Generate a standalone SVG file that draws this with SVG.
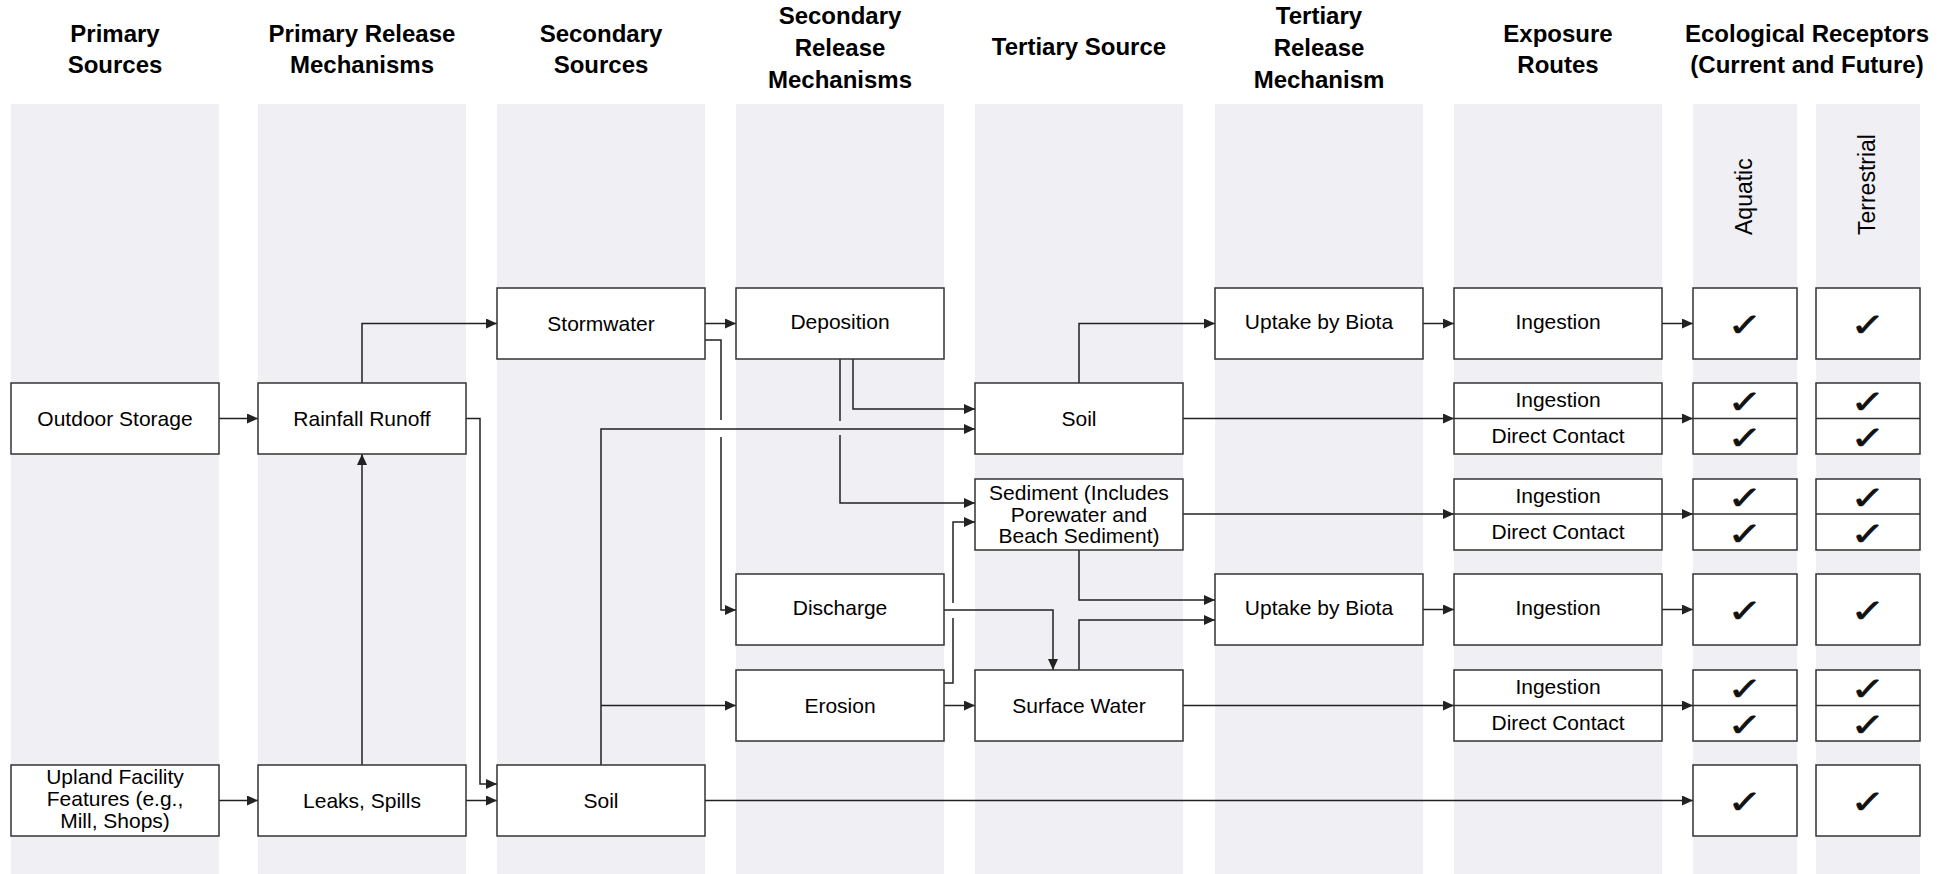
<svg xmlns="http://www.w3.org/2000/svg" width="1938" height="874" viewBox="0 0 1938 874">
  <defs>
    <marker id="arrow" markerUnits="userSpaceOnUse" markerWidth="11" markerHeight="10" refX="11" refY="5" orient="auto">
      <path d="M0,0 L11,5 L0,10 Z" fill="#222"/>
    </marker>
    <!-- shared tick mark, widened a little -->
    <text id="tick" class="chk" x="0" y="0" transform="scale(1.3,1)">✓</text>
  </defs>
  <style>
    .lane { fill: #efeff4; }
    .hdr { font-family: "Liberation Sans", Arial, sans-serif; font-size: 24px; font-weight: bold; fill: #000; text-anchor: middle; }
    .box { fill: #fff; stroke: #333; stroke-width: 1.5; }
    .div { stroke: #333; stroke-width: 1.5; fill: none; }
    .lbl { font-family: "Liberation Sans", Arial, sans-serif; font-size: 21px; fill: #000; text-anchor: middle; }
    .vlbl { font-family: "Liberation Sans", Arial, sans-serif; font-size: 23px; fill: #000; }
    .chk { font-family: "DejaVu Sans", sans-serif; font-size: 32px; fill: #111; stroke: #111; stroke-width: 0.7; text-anchor: middle; }
    .conn path { fill: none; stroke: #222; stroke-width: 1.5; }
    .conn path.a { marker-end: url(#arrow); }
  </style>

  <rect width="1938" height="874" fill="#fff"/>

  <!-- column lanes -->
  <g id="lanes">
    <rect class="lane" x="11" y="104" width="208" height="770"/>
    <rect class="lane" x="258" y="104" width="208" height="770"/>
    <rect class="lane" x="497" y="104" width="208" height="770"/>
    <rect class="lane" x="736" y="104" width="208" height="770"/>
    <rect class="lane" x="975" y="104" width="208" height="770"/>
    <rect class="lane" x="1215" y="104" width="208" height="770"/>
    <rect class="lane" x="1454" y="104" width="208" height="770"/>
    <rect class="lane" x="1693" y="104" width="104" height="770"/>
    <rect class="lane" x="1816" y="104" width="104" height="770"/>
  </g>

  <!-- column headings -->
  <g id="headers">
    <text class="hdr" x="115" y="41.5">Primary</text>
    <text class="hdr" x="115" y="73">Sources</text>
    <text class="hdr" x="362" y="41.5">Primary Release</text>
    <text class="hdr" x="362" y="73">Mechanisms</text>
    <text class="hdr" x="601" y="41.5">Secondary</text>
    <text class="hdr" x="601" y="73">Sources</text>
    <text class="hdr" x="840" y="24">Secondary</text>
    <text class="hdr" x="840" y="56">Release</text>
    <text class="hdr" x="840" y="88">Mechanisms</text>
    <text class="hdr" x="1079" y="55">Tertiary Source</text>
    <text class="hdr" x="1319" y="24">Tertiary</text>
    <text class="hdr" x="1319" y="56">Release</text>
    <text class="hdr" x="1319" y="88">Mechanism</text>
    <text class="hdr" x="1558" y="41.5">Exposure</text>
    <text class="hdr" x="1558" y="73">Routes</text>
    <text class="hdr" x="1807" y="41.5">Ecological Receptors</text>
    <text class="hdr" x="1807" y="73">(Current and Future)</text>
    <text class="vlbl" transform="translate(1752,235) rotate(-90)">Aquatic</text>
    <text class="vlbl" transform="translate(1875,235) rotate(-90)">Terrestrial</text>
  </g>

  <!-- connectors -->
  <g id="connectors" class="conn">
    <path class="a" d="M219,418.5 H258"/>
    <path class="a" d="M219,800.5 H258"/>
    <path class="a" d="M362,765 V454"/>
    <path class="a" d="M362,383 V323.5 H497"/>
    <path class="a" d="M466,418.5 H480 V784 H497"/>
    <path class="a" d="M466,800.5 H497"/>
    <path class="a" d="M705,323.5 H736"/>
    <path d="M705,340 H721 V420"/>
    <path class="a" d="M721,437 V610 H736"/>
    <path class="a" d="M601,765 V429 H975"/>
    <path class="a" d="M601,705.5 H736"/>
    <path class="a" d="M853,359 V409 H975"/>
    <path d="M840,359 V421"/>
    <path class="a" d="M840,435 V503 H975"/>
    <path d="M944,683 H953 V618"/>
    <path class="a" d="M953,603 V522 H975"/>
    <path class="a" d="M944,610 H1053 V670"/>
    <path class="a" d="M944,705.5 H975"/>
    <path class="a" d="M1079,549 V600 H1215"/>
    <path class="a" d="M1079,670 V620 H1215"/>
    <path class="a" d="M1079,383 V323.5 H1215"/>
    <path class="a" d="M1423,323.5 H1454"/>
    <path class="a" d="M1662,323.5 H1693"/>
    <path class="a" d="M1183,418.5 H1454"/>
    <path class="a" d="M1662,418.5 H1693"/>
    <path class="a" d="M1183,514 H1454"/>
    <path class="a" d="M1662,514 H1693"/>
    <path class="a" d="M1423,609.5 H1454"/>
    <path class="a" d="M1662,609.5 H1693"/>
    <path class="a" d="M1183,705.5 H1454"/>
    <path class="a" d="M1662,705.5 H1693"/>
    <path class="a" d="M705,800.5 H1693"/>
  </g>

  <!-- primary sources -->
  <g id="outdoor-storage">
    <rect class="box" x="11" y="383" width="208" height="71"/>
    <text class="lbl" x="115" y="426">Outdoor Storage</text>
  </g>
  <g id="upland-facility">
    <rect class="box" x="11" y="765" width="208" height="71"/>
    <text class="lbl" x="115" y="784">Upland Facility</text>
    <text class="lbl" x="115" y="806">Features (e.g.,</text>
    <text class="lbl" x="115" y="828">Mill, Shops)</text>
  </g>

  <!-- primary release mechanisms -->
  <g id="rainfall-runoff">
    <rect class="box" x="258" y="383" width="208" height="71"/>
    <text class="lbl" x="362" y="426">Rainfall Runoff</text>
  </g>
  <g id="leaks-spills">
    <rect class="box" x="258" y="765" width="208" height="71"/>
    <text class="lbl" x="362" y="808">Leaks, Spills</text>
  </g>

  <!-- secondary sources -->
  <g id="stormwater">
    <rect class="box" x="497" y="288" width="208" height="71"/>
    <text class="lbl" x="601" y="331">Stormwater</text>
  </g>
  <g id="soil-secondary">
    <rect class="box" x="497" y="765" width="208" height="71"/>
    <text class="lbl" x="601" y="808">Soil</text>
  </g>

  <!-- secondary release mechanisms -->
  <g id="deposition">
    <rect class="box" x="736" y="288" width="208" height="71"/>
    <text class="lbl" x="840" y="329">Deposition</text>
  </g>
  <g id="discharge">
    <rect class="box" x="736" y="574" width="208" height="71"/>
    <text class="lbl" x="840" y="615">Discharge</text>
  </g>
  <g id="erosion">
    <rect class="box" x="736" y="670" width="208" height="71"/>
    <text class="lbl" x="840" y="713">Erosion</text>
  </g>

  <!-- tertiary sources -->
  <g id="soil-tertiary">
    <rect class="box" x="975" y="383" width="208" height="71"/>
    <text class="lbl" x="1079" y="426">Soil</text>
  </g>
  <g id="sediment">
    <rect class="box" x="975" y="479" width="208" height="71"/>
    <text class="lbl" x="1079" y="500">Sediment (Includes</text>
    <text class="lbl" x="1079" y="522">Porewater and</text>
    <text class="lbl" x="1079" y="543">Beach Sediment)</text>
  </g>
  <g id="surface-water">
    <rect class="box" x="975" y="670" width="208" height="71"/>
    <text class="lbl" x="1079" y="713">Surface Water</text>
  </g>

  <!-- tertiary release mechanisms -->
  <g id="uptake-biota-1">
    <rect class="box" x="1215" y="288" width="208" height="71"/>
    <text class="lbl" x="1319" y="329">Uptake by Biota</text>
  </g>
  <g id="uptake-biota-2">
    <rect class="box" x="1215" y="574" width="208" height="71"/>
    <text class="lbl" x="1319" y="615">Uptake by Biota</text>
  </g>

  <!-- exposure routes -->
  <g id="route-1">
    <rect class="box" x="1454" y="288" width="208" height="71"/>
    <text class="lbl" x="1558" y="329">Ingestion</text>
  </g>
  <g id="route-2">
    <rect class="box" x="1454" y="383" width="208" height="71"/>
    <line class="div" x1="1454" y1="418.5" x2="1662" y2="418.5"/>
    <text class="lbl" x="1558" y="407">Ingestion</text>
    <text class="lbl" x="1558" y="443">Direct Contact</text>
  </g>
  <g id="route-3">
    <rect class="box" x="1454" y="479" width="208" height="71"/>
    <line class="div" x1="1454" y1="514" x2="1662" y2="514"/>
    <text class="lbl" x="1558" y="503">Ingestion</text>
    <text class="lbl" x="1558" y="539">Direct Contact</text>
  </g>
  <g id="route-4">
    <rect class="box" x="1454" y="574" width="208" height="71"/>
    <text class="lbl" x="1558" y="615">Ingestion</text>
  </g>
  <g id="route-5">
    <rect class="box" x="1454" y="670" width="208" height="71"/>
    <line class="div" x1="1454" y1="705.5" x2="1662" y2="705.5"/>
    <text class="lbl" x="1558" y="694">Ingestion</text>
    <text class="lbl" x="1558" y="730">Direct Contact</text>
  </g>

  <!-- aquatic receptors -->
  <g id="aquatic-1">
    <rect class="box" x="1693" y="288" width="104" height="71"/>
    <use href="#tick" x="1745" y="336"/>
  </g>
  <g id="aquatic-2">
    <rect class="box" x="1693" y="383" width="104" height="71"/>
    <line class="div" x1="1693" y1="418.5" x2="1797" y2="418.5"/>
    <use href="#tick" x="1745" y="413"/>
    <use href="#tick" x="1745" y="449"/>
  </g>
  <g id="aquatic-3">
    <rect class="box" x="1693" y="479" width="104" height="71"/>
    <line class="div" x1="1693" y1="514" x2="1797" y2="514"/>
    <use href="#tick" x="1745" y="509"/>
    <use href="#tick" x="1745" y="545"/>
  </g>
  <g id="aquatic-4">
    <rect class="box" x="1693" y="574" width="104" height="71"/>
    <use href="#tick" x="1745" y="622"/>
  </g>
  <g id="aquatic-5">
    <rect class="box" x="1693" y="670" width="104" height="71"/>
    <line class="div" x1="1693" y1="705.5" x2="1797" y2="705.5"/>
    <use href="#tick" x="1745" y="700"/>
    <use href="#tick" x="1745" y="736"/>
  </g>
  <g id="aquatic-6">
    <rect class="box" x="1693" y="765" width="104" height="71"/>
    <use href="#tick" x="1745" y="813"/>
  </g>

  <!-- terrestrial receptors -->
  <g id="terrestrial-1">
    <rect class="box" x="1816" y="288" width="104" height="71"/>
    <use href="#tick" x="1868" y="336"/>
  </g>
  <g id="terrestrial-2">
    <rect class="box" x="1816" y="383" width="104" height="71"/>
    <line class="div" x1="1816" y1="418.5" x2="1920" y2="418.5"/>
    <use href="#tick" x="1868" y="413"/>
    <use href="#tick" x="1868" y="449"/>
  </g>
  <g id="terrestrial-3">
    <rect class="box" x="1816" y="479" width="104" height="71"/>
    <line class="div" x1="1816" y1="514" x2="1920" y2="514"/>
    <use href="#tick" x="1868" y="509"/>
    <use href="#tick" x="1868" y="545"/>
  </g>
  <g id="terrestrial-4">
    <rect class="box" x="1816" y="574" width="104" height="71"/>
    <use href="#tick" x="1868" y="622"/>
  </g>
  <g id="terrestrial-5">
    <rect class="box" x="1816" y="670" width="104" height="71"/>
    <line class="div" x1="1816" y1="705.5" x2="1920" y2="705.5"/>
    <use href="#tick" x="1868" y="700"/>
    <use href="#tick" x="1868" y="736"/>
  </g>
  <g id="terrestrial-6">
    <rect class="box" x="1816" y="765" width="104" height="71"/>
    <use href="#tick" x="1868" y="813"/>
  </g>
</svg>
